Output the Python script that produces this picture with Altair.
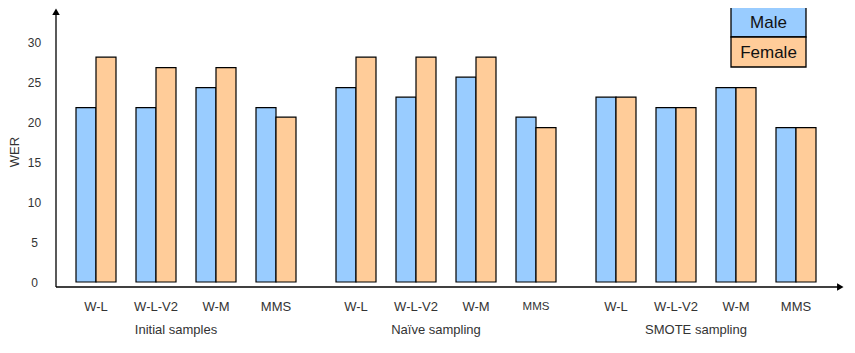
import altair as alt
import pandas as pd

groups = ["Initial samples", "Naïve sampling", "SMOTE sampling"]
models = ["W-L", "W-L-V2", "W-M", "MMS"]
sexes = ["Male", "Female"]
male_wer = [[21.8, 21.8, 24.3, 21.8],
            [24.3, 23.1, 25.6, 20.6],
            [23.1, 21.8, 24.3, 19.3]]
female_wer = [[28.1, 26.8, 26.8, 20.6],
              [28.1, 28.1, 28.1, 19.3],
              [23.1, 21.8, 24.3, 19.3]]
y_ticks = [0, 5, 10, 15, 20, 25, 30]
colors = ["#99CCFF", "#FFCC99"]

FONT = "Liberation Sans, Arial, Helvetica"
W, H = 780, 279

rows = []
for gi, g in enumerate(groups):
    for mi, m in enumerate(models):
        for s, vals in zip(sexes, [male_wer, female_wer]):
            rows.append({"group": g, "model": m, "sex": s,
                         "wer": vals[gi][mi], "slot": f"{g}|{m}|{s}"})
df = pd.DataFrame(rows)

# band slots: one per bar, one gap after each model, an extra gap between groups
slots = ["start"]
for gi, g in enumerate(groups):
    for m in models:
        slots += [f"{g}|{m}|Male", f"{g}|{m}|Female", f"{g}|{m}|gap"]
    if gi < len(groups) - 1:
        slots.append(f"{g}|gap")

model_lbl = pd.DataFrame([{"group": g, "model": m, "slot": f"{g}|{m}|Male"}
                          for g in groups for m in models])
group_lbl = pd.DataFrame([{"group": g, "slot": f"{g}|{models[1]}|Female"} for g in groups])

xscale = alt.Scale(domain=slots, paddingInner=0, paddingOuter=0)
yscale = alt.Scale(domain=[-0.625, 34.25], nice=False, zero=False)

bars = alt.Chart(df).mark_bar(stroke="black", strokeWidth=1.2).encode(
    x=alt.X("slot:N", scale=xscale, axis=None, sort=slots),
    y=alt.Y("wer:Q", scale=yscale,
            axis=alt.Axis(values=y_ticks, domain=False, ticks=False, grid=False,
                          labelAlign="center", labelPadding=22, labelFontSize=12,
                          labelColor="#333", labelFont=FONT, title=None)),
    y2=alt.value(H),
    color=alt.Color("sex:N", scale=alt.Scale(domain=sexes, range=colors), legend=None),
)

mlabels = alt.Chart(model_lbl).mark_text(font=FONT, color="#333", baseline="middle").encode(
    x=alt.X("slot:N", scale=xscale, axis=None, sort=slots, bandPosition=1),
    y=alt.value(299),
    text="model:N",
    size=alt.condition("datum.group == 'Naïve sampling' && datum.model == 'MMS'",
                       alt.value(11.5), alt.value(13)),
)

glabels = alt.Chart(group_lbl).mark_text(font=FONT, color="#333", fontSize=13, baseline="middle").encode(
    x=alt.X("slot:N", scale=xscale, axis=None, sort=slots, bandPosition=1),
    y=alt.value(322),
    text="group:N",
)

ytitle = alt.Chart(pd.DataFrame({"t": ["WER"]})).mark_text(
    font=FONT, color="#333", fontSize=13, angle=270, baseline="middle", align="center"
).encode(x=alt.value(-41), y=alt.value(144), text="t:N")

yaxis = alt.Chart(pd.DataFrame({"a": [0]})).mark_rule(color="black", strokeWidth=1.3).encode(
    x=alt.value(0), y=alt.value(4), y2=alt.value(H))
xaxis = alt.Chart(pd.DataFrame({"a": [0]})).mark_rule(color="black", strokeWidth=1.3).encode(
    x=alt.value(0), x2=alt.value(784), y=alt.value(H))
yarrow = alt.Chart(pd.DataFrame({"a": [0]})).mark_point(
    shape="triangle-up", filled=True, color="black", size=56, opacity=1).encode(
    x=alt.value(0), y=alt.value(3.7))
xarrow = alt.Chart(pd.DataFrame({"a": [0]})).mark_point(
    shape="triangle-right", filled=True, color="black", size=56, opacity=1).encode(
    x=alt.value(784.3), y=alt.value(H))

legend_layers = []
for i, (s, c) in enumerate(zip(sexes, colors)):
    d = pd.DataFrame({"sex": [s]})
    legend_layers.append(alt.Chart(d).mark_rect(fill=c, stroke="black", strokeWidth=1.3).encode(
        x=alt.value(675), x2=alt.value(750), y=alt.value(-1 + 30 * i), y2=alt.value(29 + 30 * i)))
    legend_layers.append(alt.Chart(d).mark_text(font=FONT, fontSize=17, color="#111",
                                                baseline="middle", align="center").encode(
        x=alt.value(712.5), y=alt.value(14.5 + 30 * i), text="sex:N"))

chart = alt.layer(bars, mlabels, glabels, ytitle, yaxis, xaxis, yarrow, xarrow, *legend_layers).properties(
    width=W, height=H,
    autosize=alt.AutoSizeParams(type="none"),
    padding={"left": 48, "top": 0, "right": 10, "bottom": 58},
).configure_view(stroke=None)

chart.save("out.html", embed_options={"renderer": "svg", "actions": False})
